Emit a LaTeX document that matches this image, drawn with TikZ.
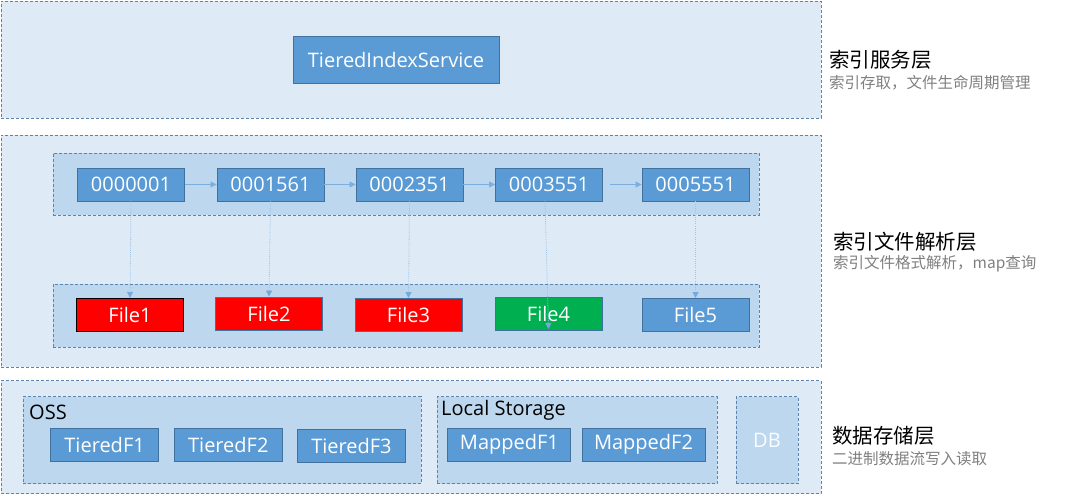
\documentclass[tikz,border=0pt]{standalone}
\usepackage{fontspec}
\setmainfont{Open Sans}
\newfontfamily\cjk{Noto Sans CJK SC}
\usetikzlibrary{arrows.meta}

\definecolor{layerfill}{HTML}{DEEBF7}
\definecolor{groupfill}{HTML}{BDD7EE}
\definecolor{edge}{HTML}{5B84B1}
\definecolor{boxfill}{HTML}{5B9BD5}
\definecolor{boxedge}{HTML}{41719C}
\definecolor{linkcol}{HTML}{9DC3E6}
\definecolor{green4}{HTML}{00B050}
\definecolor{subgray}{HTML}{7F7F7F}

\begin{document}
\begin{tikzpicture}[x=1pt, y=-1pt,
    layer/.style={rectangle, draw=edge, fill=layerfill, dash pattern=on 3pt off 2pt, line width=0.9pt, inner sep=0pt},
    group/.style={rectangle, draw=edge, fill=groupfill, dash pattern=on 3pt off 2pt, line width=0.9pt, inner sep=0pt},
    box/.style={rectangle, draw=boxedge, fill=boxfill, line width=0.9pt, text=white, font=\fontsize{20}{24}\selectfont, minimum height=33pt, minimum width=107pt, inner sep=0pt},
    redbox/.style={box, fill=red, draw=boxedge},
    title/.style={anchor=west, font=\cjk\fontsize{20.5}{24}\selectfont, inner sep=0pt},
    sub/.style={anchor=west, text=subgray, font=\cjk\fontsize{15.5}{18}\selectfont, inner sep=0pt},
    caption/.style={anchor=west, font=\fontsize{20}{24}\selectfont, inner sep=0pt},
    next/.style={draw=boxfill!80, line width=0.7pt, -{Triangle[length=6pt, width=6pt]}},
    link/.style={draw=linkcol, dash pattern=on 1pt off 1.2pt, line width=0.8pt, -{Triangle[length=6pt, width=6pt, color=boxfill!85]}}
]
\useasboundingbox (0,0) rectangle (1080,495);

% Layers
\node[layer, minimum width=820pt, minimum height=117pt] (l1) at (411, 59.5) {};
\node[layer, minimum width=820pt, minimum height=232pt] (l2) at (411, 251) {};
\node[layer, minimum width=820pt, minimum height=113pt] (l3) at (411, 437) {};

% Groups
\node[group, minimum width=706pt, minimum height=62pt] (gidx) at (406, 184) {};
\node[group, minimum width=706pt, minimum height=63pt] (gfile) at (406, 315.5) {};
\node[group, minimum width=398pt, minimum height=87pt] (goss) at (222, 440) {};
\node[group, minimum width=280pt, minimum height=87pt] (glocal) at (577, 440) {};
\node[group, minimum width=62pt, minimum height=87pt, text=white!92!groupfill, font=\fontsize{20}{24}\selectfont] (db) at (767, 440) {DB};

% Nodes
\node[box, minimum width=206pt, minimum height=47pt] (svc) at (396, 59.5) {TieredIndexService};

\node[box] (i1) at (131, 184.5) {0000001};
\node[box] (i2) at (270.5, 184.5) {0001561};
\node[box] (i3) at (409.5, 184.5) {0002351};
\node[box] (i4) at (549, 184.5) {0003551};
\node[box] (i5) at (695.5, 184.5) {0005551};

\node[redbox, draw=black, line width=1.2pt] (f1) at (130, 315) {File1};
\node[redbox] (f2) at (269, 313.5) {File2};
\node[redbox] (f3) at (408.5, 315) {File3};
\node[box, fill=green4] (f4) at (548.5, 313.5) {File4};
\node[box] (f5) at (695.5, 315) {File5};
\coordinate (f4end) at (548.5, 329);

\node[caption] (oss) at (29, 412) {OSS};
\node[box, minimum width=108pt] (t1) at (104.6, 444.5) {TieredF1};
\node[box, minimum width=108pt] (t2) at (228.3, 444.5) {TieredF2};
\node[box, minimum width=108pt] (t3) at (351.5, 445.5) {TieredF3};

\node[caption] (local) at (441, 410) {Local Storage};
\node[box, minimum width=123pt] (m1) at (509.4, 444.5) {MappedF1};
\node[box, minimum width=123pt] (m2) at (643.5, 444.5) {MappedF2};

% Labels
\node[title] (n1) at (829, 60) {索引服务层};
\node[sub] (s1) at (829, 83) {索引存取，文件生命周期管理};
\node[title] (n2) at (833, 242) {索引文件解析层};
\node[sub] (s2) at (833, 264) {索引文件格式解析，map查询};
\node[title] (n3) at (832, 436) {数据存储层};
\node[sub] (s3) at (832, 459) {二进制数据流写入读取};

% Arrows
\draw[next] (i1) -- (i2);
\draw[next] (i2) -- (i3);
\draw[next] (i3) -- (i4);
\draw[next, shorten <=7pt] (i4) -- (i5);

\draw[link] (i1.south) -- (f1.north);
\draw[link] (i2.south) -- (f2.north);
\draw[link] (i3.south) -- (f3.north);
\draw[link] ([xshift=-4pt]i4.south) -- (f4end);
\draw[link] (i5.south) -- (f5.north);

\end{tikzpicture}
\end{document}
